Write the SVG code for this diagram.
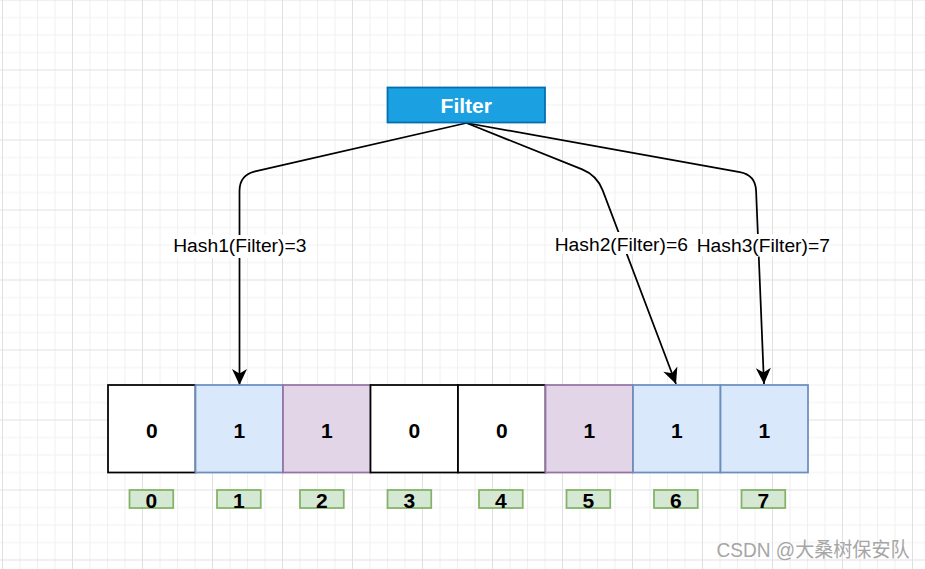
<svg xmlns="http://www.w3.org/2000/svg" width="925" height="569" viewBox="0 0 925 569">
  <defs>
    <pattern id="grid" x="2" y="-0.5" width="70" height="70" patternUnits="userSpaceOnUse">
      <path d="M18 0V70M35.5 0V70M53 0V70M0 18H70M0 35.5H70M0 53H70" stroke="#f0f0f0" stroke-width="1" fill="none"/>
      <path d="M0.5 0V70M0 0.5H70" stroke="#e0e0e0" stroke-width="1" fill="none"/>
    </pattern>
    <marker id="arrow" markerUnits="userSpaceOnUse" viewBox="-17 -8 18 16" refX="0" refY="0" markerWidth="18" markerHeight="16" orient="auto">
      <path d="M0 0L-16 -7.5L-11.5 0L-16 7.5Z" fill="#000"/>
    </marker>
    <style>
      .cell { stroke-width: 1.75; }
      .white { fill: #ffffff; stroke: #000000; }
      .blue { fill: #dae8fc; stroke: #6c8ebf; }
      .purple { fill: #e1d5e7; stroke: #9673a6; }
      .idx { fill: #d5e8d4; stroke: #82b366; stroke-width: 1.75; }
      .val { font-family: "Liberation Sans", Arial, sans-serif; font-weight: bold; font-size: 21px; text-anchor: middle; fill: #000; }
      .idxt { font-family: "Liberation Sans", Arial, sans-serif; font-weight: bold; font-size: 21px; text-anchor: middle; fill: #000; }
      .edge { fill: none; stroke: #000; stroke-width: 1.75; marker-end: url(#arrow); }
      .lbl { font-family: "Liberation Sans", Arial, sans-serif; font-size: 19.25px; text-anchor: middle; fill: #000; }
      .lblbg { fill: #ffffff; }
    </style>
  </defs>
  <rect width="925" height="569" fill="#ffffff"/>
  <rect width="925" height="569" fill="url(#grid)"/>

  <g id="connectors">
    <path class="edge" d="M466.5 123L255.1 171.4Q239.5 175 239.5 191L239.5 385"/>
    <path class="edge" d="M466.5 123L582.2 169.4Q597 175.4 602.7 190.4L676 384"/>
    <path class="edge" d="M466.5 123L739.8 172.2Q755.5 175 756.1 191L764 384"/>
    <g id="label-hash1">
      <rect class="lblbg" x="172" y="235" width="136" height="23"/>
      <text class="lbl" x="239.8" y="252">Hash1(Filter)=3</text>
    </g>
    <g id="label-hash2">
      <rect class="lblbg" x="554" y="232" width="135" height="22"/>
      <text class="lbl" x="621.3" y="250.5">Hash2(Filter)=6</text>
    </g>
    <g id="label-hash3">
      <rect class="lblbg" x="697" y="234" width="133" height="22.5"/>
      <text class="lbl" x="763.3" y="251.5">Hash3(Filter)=7</text>
    </g>
  </g>

  <g id="filter">
    <rect x="387.5" y="87.5" width="157.5" height="35" fill="#1ba1e2" stroke="#006eaf" stroke-width="1.75"/>
    <text x="466.25" y="113.3" font-family="Liberation Sans, Arial, sans-serif" font-weight="bold" font-size="21" text-anchor="middle" fill="#ffffff">Filter</text>
  </g>

  <g id="cell-0"><rect class="cell white" x="108" y="385" width="87.5" height="87.5"/><text class="val" x="151.75" y="438.3">0</text></g>
  <g id="cell-1"><rect class="cell blue" x="195.5" y="385" width="87.5" height="87.5"/><text class="val" x="239.25" y="438.3">1</text></g>
  <g id="cell-2"><rect class="cell purple" x="283" y="385" width="87.5" height="87.5"/><text class="val" x="326.75" y="438.3">1</text></g>
  <g id="cell-3"><rect class="cell white" x="370.5" y="385" width="87.5" height="87.5"/><text class="val" x="414.25" y="438.3">0</text></g>
  <g id="cell-4"><rect class="cell white" x="458" y="385" width="87.5" height="87.5"/><text class="val" x="501.75" y="438.3">0</text></g>
  <g id="cell-5"><rect class="cell purple" x="545.5" y="385" width="87.5" height="87.5"/><text class="val" x="589.25" y="438.3">1</text></g>
  <g id="cell-6"><rect class="cell blue" x="633" y="385" width="87.5" height="87.5"/><text class="val" x="676.75" y="438.3">1</text></g>
  <g id="cell-7"><rect class="cell blue" x="720.5" y="385" width="87.5" height="87.5"/><text class="val" x="764.25" y="438.3">1</text></g>

  <g id="index-0"><rect class="idx" x="129.5" y="490" width="43.75" height="18"/><text class="idxt" x="151.4" y="508">0</text></g>
  <g id="index-1"><rect class="idx" x="217" y="490" width="43.75" height="18"/><text class="idxt" x="238.9" y="508">1</text></g>
  <g id="index-2"><rect class="idx" x="300" y="490" width="43.75" height="18"/><text class="idxt" x="321.9" y="508">2</text></g>
  <g id="index-3"><rect class="idx" x="387.5" y="490" width="43.75" height="18"/><text class="idxt" x="409.4" y="508">3</text></g>
  <g id="index-4"><rect class="idx" x="479" y="490" width="43.75" height="18"/><text class="idxt" x="500.9" y="508">4</text></g>
  <g id="index-5"><rect class="idx" x="566.5" y="490" width="43.75" height="18"/><text class="idxt" x="588.4" y="508">5</text></g>
  <g id="index-6"><rect class="idx" x="654" y="490" width="43.75" height="18"/><text class="idxt" x="675.9" y="508">6</text></g>
  <g id="index-7"><rect class="idx" x="741.5" y="490" width="43.75" height="18"/><text class="idxt" x="763.4" y="508">7</text></g>

  <text x="716.5" y="556.5" font-family="Liberation Sans, Noto Sans CJK SC, sans-serif" font-size="20" fill="#a6a6a6" textLength="193" lengthAdjust="spacingAndGlyphs">CSDN @大桑树保安队</text>
</svg>
